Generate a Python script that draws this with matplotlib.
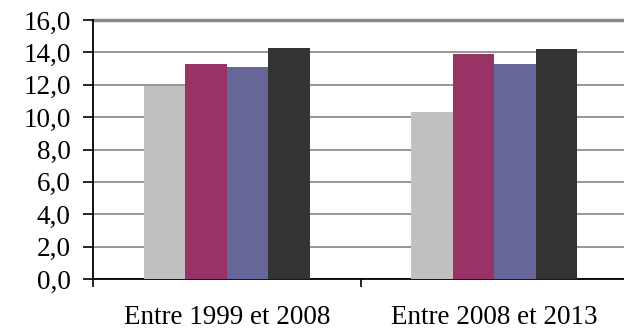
import numpy as np
from matplotlib import pyplot as plt
from matplotlib.ticker import FuncFormatter, FixedLocator

categories = ['Entre 1999 et 2008', 'Entre 2008 et 2013']
serie_1 = [11.9, 10.3]
serie_2 = [13.3, 13.9]
serie_3 = [13.1, 13.3]
serie_4 = [14.3, 14.2]
couleurs = ['#c0c0c0', '#993366', '#666699', '#333333']

plt.rcParams['font.family'] = 'Liberation Serif'

fig = plt.figure(figsize=(6.24, 3.32), dpi=100)
ax = fig.add_axes([93 / 624, 1 - 279 / 332, 1 - 93 / 624, 259 / 332])

x = np.arange(len(categories))
w = 0.155
for i, vals in enumerate([serie_1, serie_2, serie_3, serie_4]):
    ax.bar(x + (i - 1.5) * w, vals, w, color=couleurs[i], zorder=3)

ax.set_ylim(0, 16)
ax.set_xlim(-0.5, 1.485)
ax.set_yticks(np.arange(0, 17, 2))
ax.yaxis.set_major_formatter(FuncFormatter(lambda v, p: f'{v:.1f}'.replace('.', ',')))
ax.tick_params(axis='y', direction='out', length=7, width=1.2, labelsize=19.5, pad=9)

ax.set_xticks(x)
ax.set_xticklabels(categories)
ax.tick_params(axis='x', which='major', length=0, labelsize=19.5, pad=19)
ax.xaxis.set_minor_locator(FixedLocator([-0.5, 0.5]))
ax.tick_params(axis='x', which='minor', direction='out', length=6, width=1.2)

ax.grid(axis='y', color='#858585', linewidth=1.2, zorder=0)
for s in ['top', 'right']:
    ax.spines[s].set_visible(False)
ax.axhline(16, color='#8c8c8c', linewidth=2.5, zorder=1, clip_on=False)
ax.spines['left'].set_linewidth(1.3)
ax.spines['bottom'].set_linewidth(1.3)

fig.savefig('out.png', dpi=100)
